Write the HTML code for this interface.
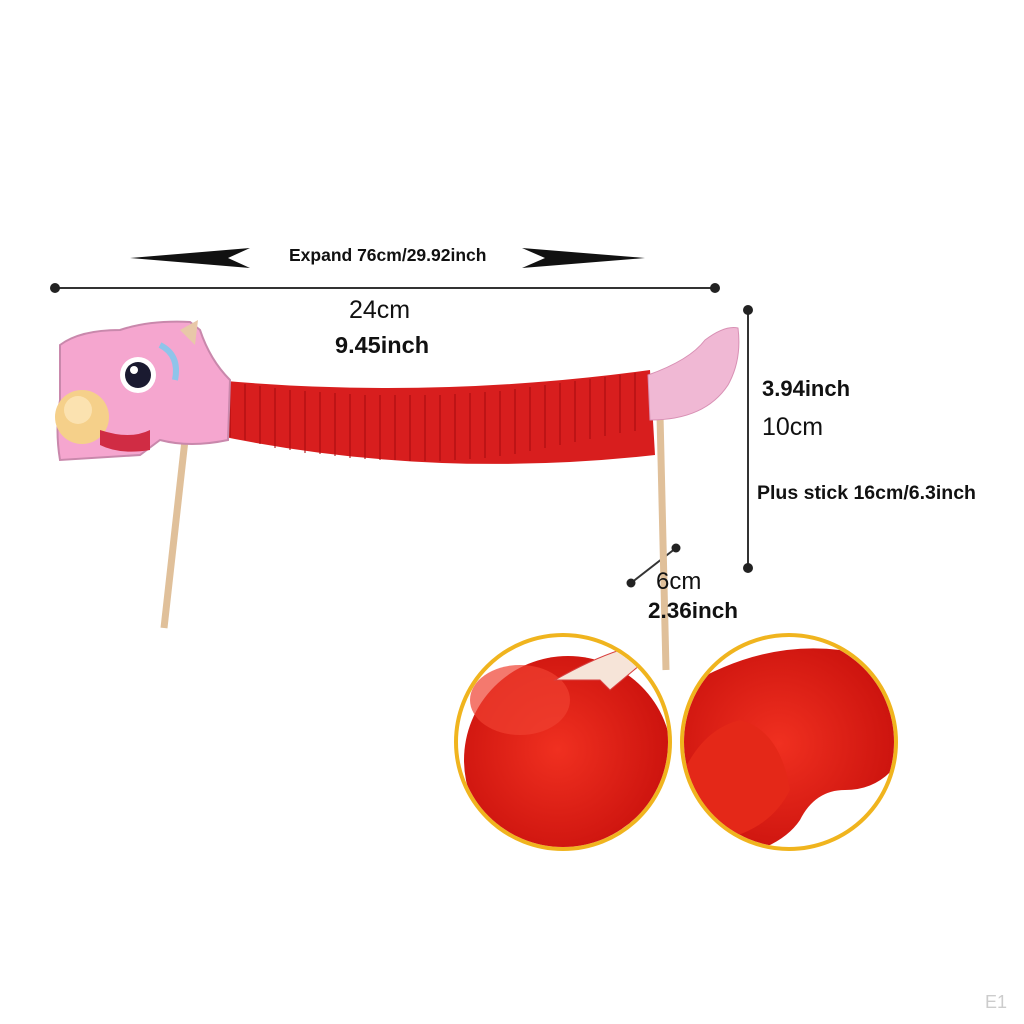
<!DOCTYPE html>
<html><head><meta charset="utf-8"><style>
html,body{margin:0;padding:0;background:#fff;}
body{width:1024px;height:1024px;position:relative;overflow:hidden;font-family:"Liberation Sans",sans-serif;}
.t{position:absolute;white-space:nowrap;color:#111;}
.b{font-weight:bold;}
</style></head><body>
<svg width="1024" height="1024" style="position:absolute;left:0;top:0">
<defs>
<radialGradient id="rg" cx="45%" cy="45%" r="60%"><stop offset="0" stop-color="#f03020"/><stop offset="1" stop-color="#c8100c"/></radialGradient>
<clipPath id="c1"><circle cx="563" cy="742" r="105"/></clipPath>
<clipPath id="c2"><circle cx="789" cy="742" r="105"/></clipPath>
</defs>
<polygon points="130,258 250,248 228,258 250,268" fill="#111"/>
<polygon points="645,258 522,248 545,258 522,268" fill="#111"/>
<line x1="55" y1="288" x2="715" y2="288" stroke="#333" stroke-width="2"/>
<circle cx="55" cy="288" r="5" fill="#222"/><circle cx="715" cy="288" r="5" fill="#222"/>
<line x1="748" y1="310" x2="748" y2="568" stroke="#333" stroke-width="2"/>
<circle cx="748" cy="310" r="5" fill="#222"/><circle cx="748" cy="568" r="5" fill="#222"/>
<line x1="631" y1="583" x2="676" y2="548" stroke="#333" stroke-width="2"/>
<circle cx="631" cy="583" r="4.5" fill="#222"/><circle cx="676" cy="548" r="4.5" fill="#222"/>
<line x1="185" y1="440" x2="164" y2="628" stroke="#e0c09a" stroke-width="7"/>
<line x1="660" y1="415" x2="666" y2="670" stroke="#e0c09a" stroke-width="7"/>
<path d="M215,380 Q430,400 650,370 L655,455 Q430,480 215,435 Z" fill="#d81e1e"/>
<g stroke="#a80c10" stroke-width="1.5" opacity="0.7">
<path d="M230,382v55M245,384v56M260,386v58M275,388v60M290,390v60M305,391v62M320,392v62M335,393v63M350,394v64M365,395v64M380,395v65M395,395v65M410,395v66M425,395v66M440,395v66M455,394v66M470,393v66M485,392v66M500,391v65M515,389v65M530,387v64M545,385v63M560,383v62M575,381v61M590,379v60M605,377v59M620,375v58M635,373v58"/>
</g>
<path d="M648,375 Q690,360 705,340 Q725,325 738,328 Q742,360 728,385 Q705,420 650,420 Z" fill="#f0b8d4" stroke="#d890b4"/>
<path d="M60,345 Q80,330 120,330 Q150,320 190,322 L200,330 Q210,360 230,380 L228,440 Q190,448 160,440 L140,455 L60,460 Q55,430 60,400 Z" fill="#f5a6cf" stroke="#c988ac" stroke-width="2"/>
<path d="M180,330 L198,320 L195,345 Z" fill="#e8c8a8"/>
<circle cx="138" cy="375" r="18" fill="#fff"/><circle cx="138" cy="375" r="13" fill="#1a1a30"/><circle cx="134" cy="370" r="4" fill="#fff"/>
<path d="M160,345 Q180,355 175,380" stroke="#8fc4ea" stroke-width="6" fill="none"/>
<circle cx="82" cy="417" r="27" fill="#f5d08a"/><circle cx="78" cy="410" r="14" fill="#fbe2b0"/>
<path d="M100,430 Q130,440 150,430 L150,450 Q120,455 100,445 Z" fill="#d02c44"/>
<circle cx="563" cy="742" r="107" fill="#fff" stroke="#f0b41e" stroke-width="4"/>
<g clip-path="url(#c1)">
<ellipse cx="568" cy="760" rx="104" ry="104" fill="url(#rg)"/>
<ellipse cx="520" cy="700" rx="50" ry="35" fill="#f04030" opacity="0.7"/>
<path d="M555,680 Q590,660 620,650 L640,665 L610,690 L600,680 Z" fill="#f6e4d8" stroke="#d84040"/>
</g>
<circle cx="789" cy="742" r="107" fill="#fff" stroke="#f0b41e" stroke-width="4"/>
<g clip-path="url(#c2)">
<path d="M680,690 Q760,640 840,650 Q900,670 900,760 Q880,790 845,790 Q815,790 800,820 Q780,850 720,860 L680,860 Z" fill="url(#rg)"/>
<path d="M680,780 Q700,730 740,720 Q780,730 790,790 Q770,830 720,840 Z" fill="#e42818"/>
</g>
</svg>
<div class="t b" style="left:289px;top:245px;font-size:17.5px;">Expand 76cm/29.92inch</div>
<div class="t" style="left:349px;top:296px;font-size:25px;">24cm</div>
<div class="t b" style="left:335px;top:332px;font-size:23.5px;">9.45inch</div>
<div class="t b" style="left:762px;top:376px;font-size:22px;">3.94inch</div>
<div class="t" style="left:762px;top:413px;font-size:25px;">10cm</div>
<div class="t b" style="left:757px;top:482px;font-size:19.5px;">Plus stick 16cm/6.3inch</div>
<div class="t" style="left:656px;top:568px;font-size:24px;">6cm</div>
<div class="t b" style="left:648px;top:598px;font-size:22.5px;">2.36inch</div>
<div class="t" style="left:985px;top:992px;font-size:18px;color:#ccc;">E1</div>
</body></html>
